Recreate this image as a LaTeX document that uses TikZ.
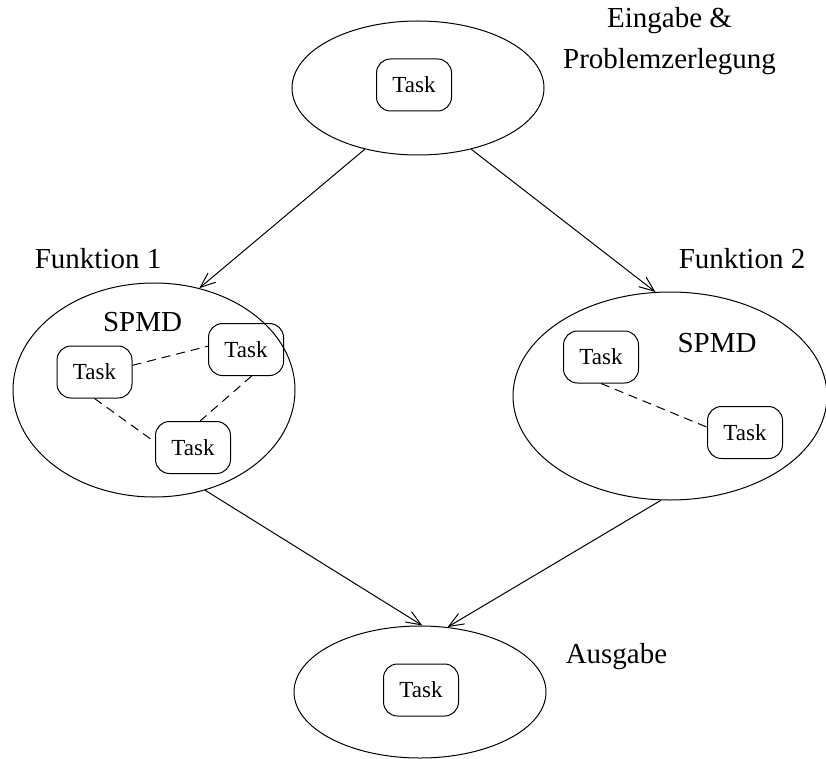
\documentclass[tikz,border=0pt]{standalone}
\usepackage{fontspec}
\setmainfont{Liberation Serif}
\usetikzlibrary{shapes.geometric,arrows.meta}
\begin{document}
\begin{tikzpicture}[x=1pt,y=1pt,
  line width=1pt,
  region/.style={draw,ellipse,inner sep=0pt},
  taskbox/.style={draw,rounded corners=14pt,minimum width=75pt,minimum height=52pt,
    inner sep=0pt,font=\fontsize{23}{26}\selectfont},
  lbl/.style={font=\fontsize{29}{33}\selectfont,inner sep=0pt,anchor=base},
  flow/.style={-{Straight Barb[length=15pt,width=12pt]}},
  link/.style={dash pattern=on 9pt off 6pt}]
\useasboundingbox (0,0) rectangle (826,-759);

% regions
\node[region,minimum width=252pt,minimum height=134pt] (in)  at (418,-88)  {};
\node[region,minimum width=282pt,minimum height=214pt] (f1)  at (154,-390) {};
\node[region,minimum width=314pt,minimum height=208pt] (f2)  at (670,-396) {};
\node[region,minimum width=252pt,minimum height=132pt] (out) at (420,-692) {};

% tasks
\node[taskbox] (t0) at (414,-85) {Task};
\node[taskbox] (ta) at (94.5,-372) {Task};
\node[taskbox] (tb) at (246,-349.5) {Task};
\node[taskbox] (tc) at (193,-447.5) {Task};
\node[taskbox] (td) at (601,-357) {Task};
\node[taskbox] (te) at (745,-432.5) {Task};
\node[taskbox] (tz) at (421,-690) {Task};

% labels
\node[lbl] (l1) at (669.5,-28) {Eingabe \&};
\node[lbl] (l2) at (669.5,-69) {Problemzerlegung};
\node[lbl] (l3) at (98,-268) {Funktion 1};
\node[lbl] (l4) at (742,-268) {Funktion 2};
\node[lbl] (s1) at (142.5,-331) {SPMD};
\node[lbl] (s2) at (717,-352) {SPMD};
\node[lbl] (l5) at (616.5,-663) {Ausgabe};

% task links
\draw[link] (ta.10) -- (tb.175);
\draw[link] (ta.south) -- (tc.172);
\draw[link] (tb.-78) -- (tc.75);
\draw[link] (td.south) -- (te.172);

% control flow
\draw[flow] (in.229) -- (f1.66);
\draw[flow] (in.311) -- (f2.98);
\draw[flow] (f1.297) -- (out.88);
\draw[flow] (f2.265) -- (out.67);
\end{tikzpicture}
\end{document}
